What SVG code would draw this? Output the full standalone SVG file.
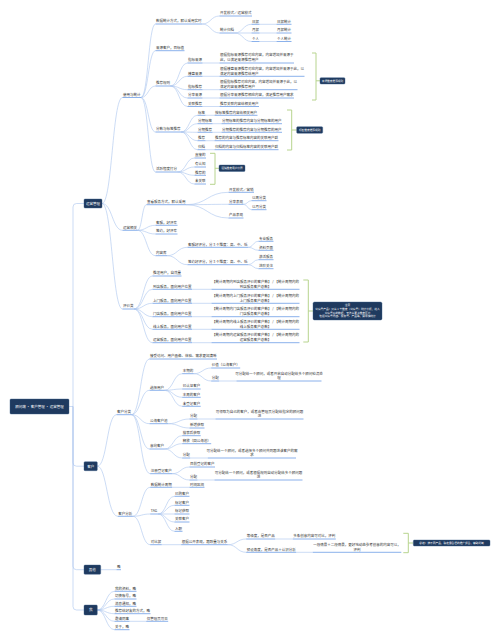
<svg xmlns="http://www.w3.org/2000/svg" width="498" height="640" viewBox="0 0 498 640">
<style>
text{font-family:"Noto Sans CJK SC","Noto Sans",sans-serif;font-size:3.5px;fill:#333}
.m{text-anchor:middle}
.w{fill:#fff}
.s{font-size:2.7px}
.u{stroke:#6d9de6;stroke-width:.8}
.c{stroke:#a9c4ee;stroke-width:.6;fill:none}
.b{fill:#1f3a5f;stroke:#3d5f8c;stroke-width:.4}
.k{stroke:#b7d48e;stroke-width:1;fill:none}
</style>
<rect width="498" height="640" fill="#fff"/>
<g id="connectors">
<path class="c" d="M69 406.5H73M73 406.5V207Q73 203.5 76.5 203.5H84M73 406.5V462.7Q73 466.2 76.5 466.2H84M73 406.5V566.2Q73 569.7 76.5 569.7H84M73 406.5V606.5Q73 610 76.5 610H84"/>
<path class="c" d="M102 203.5C112.3 203.5 112.3 97.5 122.5 97.5M102 203.5C112.3 203.5 112.3 230.3 122.5 230.3M102 203.5C112.3 203.5 112.3 309 122.5 309"/>
<path class="c" d="M141 97.5C148.3 97.5 148.3 24 155.5 24M141 97.5C148.3 97.5 148.3 50.7 155.5 50.7M141 97.5C148.3 97.5 148.3 86 155.5 86M141 97.5C148.3 97.5 148.3 132 155.5 132M141 97.5C148.3 97.5 148.3 172 155.5 172"/>
<path class="c" d="M202 24C210.8 24 210.8 16 219.5 16M202 24C210.8 24 210.8 33 219.5 33M234.5 33C243 33 243 24.3 251.5 24.3M234.5 33H251.5M234.5 33C243 33 243 41.5 251.5 41.5M259.5 24.3H276.5M259.5 33H276.5M259.5 41.5H276.5"/>
<path class="c" d="M170.5 86C179 86 179 63 187.5 63M170.5 86C179 86 179 76.3 187.5 76.3M170.5 86C179 86 179 89.7 187.5 89.7M170.5 86C179 86 179 98 187.5 98M170.5 86C179 86 179 106.5 187.5 106.5M202.5 63H219.5M202.5 76.3H219.5M202.5 89.7H219.5M202.5 98H219.5M202.5 106.5H219.5"/>
<path class="c" d="M181 132C189.3 132 189.3 115.3 197.5 115.3M181 132C189.3 132 189.3 123.7 197.5 123.7M181 132C189.3 132 189.3 132.3 197.5 132.3M181 132C189.3 132 189.3 140.7 197.5 140.7M181 132C189.3 132 189.3 149.7 197.5 149.7M205.5 115.3H214.5M212.5 123.7H221.5M212.5 132.3H221.5M205.5 140.7H214.5M205.5 149.7H214.5"/>
<path class="c" d="M177.5 172C186 172 186 158 194.5 158M177.5 172C186 172 186 167 194.5 167M177.5 172C186 172 186 175.3 194.5 175.3M177.5 172C186 172 186 184 194.5 184"/>
<path class="c" d="M137.5 230.3C142 230.3 142 204.7 146.5 204.7M137.5 230.3C146.5 230.3 146.5 225.3 155.5 225.3M137.5 230.3C146.5 230.3 146.5 234 155.5 234M137.5 230.3C146.5 230.3 146.5 255.7 155.5 255.7"/>
<path class="c" d="M186 204.7C207.3 204.7 207.3 192.3 228.5 192.3M186 204.7C207.3 204.7 207.3 204.3 228.5 204.3M186 204.7C207.3 204.7 207.3 218 228.5 218M243.5 204.3C247.5 204.3 247.5 200.7 251.5 200.7M243.5 204.3C247.5 204.3 247.5 209.7 251.5 209.7"/>
<path class="c" d="M167 255.7C177.3 255.7 177.3 247.3 187.5 247.3M167 255.7C177.3 255.7 177.3 264.7 187.5 264.7M248 247.3C253.3 247.3 253.3 241.3 258.5 241.3M248 247.3C253.3 247.3 253.3 250.3 258.5 250.3M248 264.7C253.3 264.7 253.3 259.7 258.5 259.7M248 264.7C253.3 264.7 253.3 268.7 258.5 268.7"/>
<path class="c" d="M134 309C143.3 309 143.3 276 152.5 276M134 309C143.3 309 143.3 289.3 152.5 289.3M134 309C143.3 309 143.3 303.3 152.5 303.3M134 309C143.3 309 143.3 316.7 152.5 316.7M134 309C143.3 309 143.3 329.3 152.5 329.3M134 309C143.3 309 143.3 342.7 152.5 342.7M192 289.3H211.5M192 303.3H211.5M192 316.7H211.5M192 329.3H211.5M192 342.7H211.5"/>
<path class="c" d="M97.3 466.2C107 466.2 107 414.7 116.5 414.7M97.3 466.2C107 466.2 107 516.3 117.8 516.3"/>
<path class="c" d="M131.5 414.7C140.5 414.7 140.5 359 149.5 359M131.5 414.7C140.5 414.7 140.5 390.3 149.5 390.3M131.5 414.7C140.5 414.7 140.5 423.7 149.5 423.7M131.5 414.7C140.5 414.7 140.5 449 149.5 449M131.5 414.7C140.5 414.7 140.5 473.7 150.2 473.7"/>
<path class="c" d="M164.5 390.3C173.3 390.3 173.3 373.7 182.2 373.7M164.5 390.3C173.3 390.3 173.3 389 182.2 389M164.5 390.3C173.3 390.3 173.3 397.3 182.2 397.3M164.5 390.3C173.3 390.3 173.3 406.3 182.2 406.3M193.7 373.7C202.5 373.7 202.5 368 211.2 368M193.7 373.7C202.5 373.7 202.5 381 211.2 381M219.2 381H236.5"/>
<path class="c" d="M168 423.7C178.8 423.7 178.8 419 189.5 419M168 423.7C178.8 423.7 178.8 428 189.5 428M197.5 419H215.5"/>
<path class="c" d="M164.5 449C173.3 449 173.3 435.7 182.2 435.7M164.5 449C173.3 449 173.3 443.7 182.2 443.7M164.5 449C173.3 449 173.3 458 182.2 458M190.2 458H207.8"/>
<path class="c" d="M172.2 473.7C180.8 473.7 180.8 467 189.5 467M172.2 473.7C180.8 473.7 180.8 480 189.5 480M197.5 480H214.5"/>
<path class="c" d="M132.8 516.3C141.5 516.3 141.5 487.3 150.2 487.3M132.8 516.3C141.5 516.3 141.5 514 150.2 514M132.8 516.3C141.5 516.3 141.5 544.7 150.2 544.7M172.2 487.3H189.5"/>
<path class="c" d="M158 514C166.3 514 166.3 496.3 174.5 496.3M158 514C166.3 514 166.3 505.3 174.5 505.3M158 514H174.5M158 514C166.3 514 166.3 522 174.5 522M158 514C166.3 514 166.3 531.3 174.5 531.3"/>
<path class="c" d="M161.7 544.7H181.2M227.7 544.7C237 544.7 237 539 246.2 539M227.7 544.7C237 544.7 237 552.3 246.2 552.3M275.2 539H292.8M296.2 552.3H312.8"/>
<path class="c" d="M100.7 569.7H116.5"/>
<path class="c" d="M97.3 610C105.9 610 105.9 591.3 114.5 591.3M97.3 610C105.9 610 105.9 599 114.5 599M97.3 610C105.9 610 105.9 606.3 114.5 606.3M97.3 610C105.9 610 105.9 613.7 114.5 613.7M97.3 610C105.9 610 105.9 621.3 114.5 621.3M97.3 610C105.9 610 105.9 629.7 114.5 629.7M129.5 621.3H146.2"/>
</g>
<g id="root"><rect class="b" x="10" y="399" width="59" height="15" rx="1"/><text class="w m" x="39.5" y="407.8">顾问端 · 客户管理 · 运营管理</text></g>
<g id="l1-ops"><rect class="b" x="84" y="199" width="18" height="9" rx="1"/><text class="w m" x="93" y="204.8">运营管理</text></g>
<g id="l1-cust"><rect class="b" x="84" y="461.7" width="13.3" height="9" rx="1"/><text class="w m" x="90.65" y="467.5">客户</text></g>
<g id="l1-other"><rect class="b" x="84" y="565" width="16.7" height="9.3" rx="1"/><text class="w m" x="92.35" y="571">其他</text></g>
<g id="l1-me"><rect class="b" x="84" y="605" width="13.3" height="10" rx="1"/><text class="w m" x="90.65" y="611.3">我</text></g>

<g id="a1"><text x="123" y="95.8">使用与统计</text><line class="u" x1="122.5" y1="97.5" x2="141" y2="97.5"/></g>
<g id="a1a"><text x="156" y="22.3">数据统计方式，默认采用实时</text><line class="u" x1="155.5" y1="24" x2="202" y2="24"/></g>
<g id="a1a1"><text x="220" y="14.3">开发模式／运营模式</text><line class="u" x1="219.5" y1="16" x2="252" y2="16"/></g>
<g id="a1a2"><text x="220" y="31.3">统计归档</text><line class="u" x1="219.5" y1="33" x2="234.5" y2="33"/></g>
<g id="r1"><text x="252" y="22.6">日报</text><line class="u" x1="251.5" y1="24.3" x2="259.5" y2="24.3"/></g>
<g id="r1c"><text x="277" y="22.6">日报统计</text><line class="u" x1="276.5" y1="24.3" x2="291.5" y2="24.3"/></g>
<g id="r2"><text x="252" y="31.3">月报</text><line class="u" x1="251.5" y1="33" x2="259.5" y2="33"/></g>
<g id="r2c"><text x="277" y="31.3">月报统计</text><line class="u" x1="276.5" y1="33" x2="291.5" y2="33"/></g>
<g id="r3"><text x="252" y="39.8">个人</text><line class="u" x1="251.5" y1="41.5" x2="259.5" y2="41.5"/></g>
<g id="r3c"><text x="277" y="39.8">个人统计</text><line class="u" x1="276.5" y1="41.5" x2="291.5" y2="41.5"/></g>
<g id="a1b"><text x="156" y="49">来源客户，目标值</text><line class="u" x1="155.5" y1="50.7" x2="184.5" y2="50.7"/></g>
<g id="a1c"><text x="156" y="84.3">推荐规则</text><line class="u" x1="155.5" y1="86" x2="170.5" y2="86"/></g>
<g id="c1"><text x="188" y="61.3">指标来源</text><line class="u" x1="187.5" y1="63" x2="202.5" y2="63"/></g>
<g id="c1t"><text x="220" y="56.3">根据指标来源推荐对应内容，内容增加并来源于</text><text x="220" y="61.3">此，以满足来源推荐用户</text><line class="u" x1="219.5" y1="63" x2="294" y2="63"/></g>
<g id="c2"><text x="188" y="74.6">楼盘来源</text><line class="u" x1="187.5" y1="76.3" x2="202.5" y2="76.3"/></g>
<g id="c2t"><text x="220" y="69.6">根据楼盘来源推荐对应内容，内容增加并来源于此，以</text><text x="220" y="74.6">满足内容来源推荐给用户</text><line class="u" x1="219.5" y1="76.3" x2="304.5" y2="76.3"/></g>
<g id="c3"><text x="188" y="88">指标推荐</text><line class="u" x1="187.5" y1="89.7" x2="202.5" y2="89.7"/></g>
<g id="c3t"><text x="220" y="83">根据指标推荐对应内容，内容增加并来源于此，以</text><text x="220" y="88">满足内容来源推荐用户</text><line class="u" x1="219.5" y1="89.7" x2="297.5" y2="89.7"/></g>
<g id="c4"><text x="188" y="96.3">分享来源</text><line class="u" x1="187.5" y1="98" x2="202.5" y2="98"/></g>
<g id="c4t"><text x="220" y="96.3">根据分享来源推荐相应内容，满足推荐用户需求</text><line class="u" x1="219.5" y1="98" x2="294" y2="98"/></g>
<g id="c5"><text x="188" y="104.8">关联推荐</text><line class="u" x1="187.5" y1="106.5" x2="202.5" y2="106.5"/></g>
<g id="c5t"><text x="220" y="104.8">推荐关联内容给相关用户</text><line class="u" x1="219.5" y1="106.5" x2="259" y2="106.5"/></g>
<g id="a1d"><text x="156" y="130.3">分数与标签推荐</text><line class="u" x1="155.5" y1="132" x2="181" y2="132"/></g>
<g id="d1"><text x="198" y="113.6">标签</text><line class="u" x1="197.5" y1="115.3" x2="205.5" y2="115.3"/></g>
<g id="d1t"><text x="215" y="113.6">按标签推荐内容给相关用户</text><line class="u" x1="214.5" y1="115.3" x2="257.5" y2="115.3"/></g>
<g id="d2"><text x="198" y="122">分期标签</text><line class="u" x1="197.5" y1="123.7" x2="212.5" y2="123.7"/></g>
<g id="d2t"><text x="222" y="122">分期标签的推荐内容与分期标签的用户</text><line class="u" x1="221.5" y1="123.7" x2="282" y2="123.7"/></g>
<g id="d3"><text x="198" y="130.6">分期推荐</text><line class="u" x1="197.5" y1="132.3" x2="212.5" y2="132.3"/></g>
<g id="d3t"><text x="222" y="130.6">分期推荐的推荐内容与分期推荐的用户</text><line class="u" x1="221.5" y1="132.3" x2="282" y2="132.3"/></g>
<g id="d4"><text x="198" y="139">推荐</text><line class="u" x1="197.5" y1="140.7" x2="205.5" y2="140.7"/></g>
<g id="d4t"><text x="215" y="139">推荐的内容与推荐标签内容的关联用户群</text><line class="u" x1="214.5" y1="140.7" x2="278.5" y2="140.7"/></g>
<g id="d5"><text x="198" y="148">归档</text><line class="u" x1="197.5" y1="149.7" x2="205.5" y2="149.7"/></g>
<g id="d5t"><text x="215" y="148">归档的内容与归档标签内容的关联用户群</text><line class="u" x1="214.5" y1="149.7" x2="278.5" y2="149.7"/></g>
<g id="a1e"><text x="156" y="170.3">活跃程度打分</text><line class="u" x1="155.5" y1="172" x2="177.5" y2="172"/></g>
<g id="e1"><text x="195" y="156.3">直接的</text><line class="u" x1="194.5" y1="158" x2="206" y2="158"/></g>
<g id="e2"><text x="195" y="165.3">有认知</text><line class="u" x1="194.5" y1="167" x2="206" y2="167"/></g>
<g id="e3"><text x="195" y="173.6">推荐的</text><line class="u" x1="194.5" y1="175.3" x2="206" y2="175.3"/></g>
<g id="e4"><text x="195" y="182.3">未关联</text><line class="u" x1="194.5" y1="184" x2="206" y2="184"/></g>
<g id="sumA"><path class="k" d="M312 53H316V100H312M316 80.8H320"/><rect class="b" x="320" y="77.7" width="25" height="6.3" rx="1"/><text class="w m s" x="332.5" y="81.8">来源维度推荐规则</text></g>
<g id="sumB"><path class="k" d="M287 110H291.7V150H287M291.7 130H296.7"/><rect class="b" x="296.7" y="126.7" width="26" height="6.6" rx="1"/><text class="w m s" x="309.7" y="131">标签维度推荐规则</text></g>
<g id="sumC"><path class="k" d="M210 153.3H215V184.3H210M215 168.3H219"/><rect class="b" x="219" y="165" width="26" height="6.5" rx="1"/><text class="w m s" x="232" y="169.3">活跃维度用户分层</text></g>

<g id="a2"><text x="123" y="228.6">运营相关</text><line class="u" x1="122.5" y1="230.3" x2="137.5" y2="230.3"/></g>
<g id="a2a"><text x="147" y="203">查看服务方式，默认采用</text><line class="u" x1="146.5" y1="204.7" x2="186" y2="204.7"/></g>
<g id="f1"><text x="229" y="190.6">开发模式／营销</text><line class="u" x1="228.5" y1="192.3" x2="254" y2="192.3"/></g>
<g id="f2"><text x="229" y="202.6">分享表现</text><line class="u" x1="228.5" y1="204.3" x2="243.5" y2="204.3"/></g>
<g id="g1"><text x="252" y="199">以周分类</text><line class="u" x1="251.5" y1="200.7" x2="266.5" y2="200.7"/></g>
<g id="g2"><text x="252" y="208">以月分类</text><line class="u" x1="251.5" y1="209.7" x2="266.5" y2="209.7"/></g>
<g id="f3"><text x="229" y="216.3">产品表现</text><line class="u" x1="228.5" y1="218" x2="243.5" y2="218"/></g>
<g id="a2b"><text x="156" y="223.6">客服，好评率</text><line class="u" x1="155.5" y1="225.3" x2="177.5" y2="225.3"/></g>
<g id="a2c"><text x="156" y="232.3">签约，好评率</text><line class="u" x1="155.5" y1="234" x2="177.5" y2="234"/></g>
<g id="a2d"><text x="156" y="254">内容库</text><line class="u" x1="155.5" y1="255.7" x2="167" y2="255.7"/></g>
<g id="h1"><text x="188" y="245.6">客服好评分，分 3 个维度：高、中、低</text><line class="u" x1="187.5" y1="247.3" x2="248" y2="247.3"/></g>
<g id="i1"><text x="259" y="239.6">专业服务</text><line class="u" x1="258.5" y1="241.3" x2="273.5" y2="241.3"/></g>
<g id="i2"><text x="259" y="248.6">资料页面</text><line class="u" x1="258.5" y1="250.3" x2="273.5" y2="250.3"/></g>
<g id="h2"><text x="188" y="263">签约好评分，分 3 个维度：高、中、低</text><line class="u" x1="187.5" y1="264.7" x2="248" y2="264.7"/></g>
<g id="i3"><text x="259" y="258">激活服务</text><line class="u" x1="258.5" y1="259.7" x2="273.5" y2="259.7"/></g>
<g id="i4"><text x="259" y="267">进阶关注</text><line class="u" x1="258.5" y1="268.7" x2="273.5" y2="268.7"/></g>

<g id="a3"><text x="123" y="307.3">评价类</text><line class="u" x1="122.5" y1="309" x2="134" y2="309"/></g>
<g id="j1"><text x="153" y="274.3">推送用户，自然量</text><line class="u" x1="152.5" y1="276" x2="181.5" y2="276"/></g>
<g id="j2"><text x="153" y="287.6">到店服务，面向用户位置</text><line class="u" x1="152.5" y1="289.3" x2="192" y2="289.3"/></g>
<g id="j2t"><text class="m" x="255.5" y="282.9">【统计周期内到店服务评价的客户数】 / 【统计周期内的</text><text class="m" x="255.5" y="287.6">到店服务客户总数】</text><line class="u" x1="211.5" y1="289.3" x2="299.5" y2="289.3"/></g>
<g id="j3"><text x="153" y="301.6">上门服务，面向用户位置</text><line class="u" x1="152.5" y1="303.3" x2="192" y2="303.3"/></g>
<g id="j3t"><text class="m" x="255.5" y="296.9">【统计周期内上门服务评价的客户数】 / 【统计周期内的</text><text class="m" x="255.5" y="301.6">上门服务客户总数】</text><line class="u" x1="211.5" y1="303.3" x2="299.5" y2="303.3"/></g>
<g id="j4"><text x="153" y="315">门店服务，面向用户位置</text><line class="u" x1="152.5" y1="316.7" x2="192" y2="316.7"/></g>
<g id="j4t"><text class="m" x="255.5" y="310.3">【统计周期内门店服务评价的客户数】 / 【统计周期内的</text><text class="m" x="255.5" y="315">门店服务客户总数】</text><line class="u" x1="211.5" y1="316.7" x2="299.5" y2="316.7"/></g>
<g id="j5"><text x="153" y="327.6">线上服务，面向用户位置</text><line class="u" x1="152.5" y1="329.3" x2="192" y2="329.3"/></g>
<g id="j5t"><text class="m" x="255.5" y="322.9">【统计周期内线上服务评价的客户数】 / 【统计周期内的</text><text class="m" x="255.5" y="327.6">线上服务客户总数】</text><line class="u" x1="211.5" y1="329.3" x2="299.5" y2="329.3"/></g>
<g id="j6"><text x="153" y="341">运营服务，面向用户位置</text><line class="u" x1="152.5" y1="342.7" x2="192" y2="342.7"/></g>
<g id="j6t"><text class="m" x="255.5" y="336.3">【统计周期内运营服务评价的客户数】 / 【统计周期内的</text><text class="m" x="255.5" y="341">运营服务客户总数】</text><line class="u" x1="211.5" y1="342.7" x2="299.5" y2="342.7"/></g>
<g id="sumD"><path class="k" d="M303.3 280H308.3V342H303.3M308.3 311H313"/><rect class="b" x="313" y="302" width="69" height="18" rx="1.5"/><text class="w m s" x="347.5" y="306">注意</text><text class="w m s" x="347.5" y="310.3">公众号产品：只从 1 个维度（公众号）统计分析，进入</text><text class="w m s" x="347.5" y="313.7">公众号后的数据，无法从更多维度区分</text><text class="w m s" x="347.5" y="317">包括公众号内容、服务号、产品等，需单独统计</text></g>

<g id="b1"><text x="117" y="413">客户分类</text><line class="u" x1="116.5" y1="414.7" x2="131.5" y2="414.7"/></g>
<g id="b1a"><text x="150" y="357.3">接受访问、用户画像、体验、需求更加清晰</text><line class="u" x1="149.5" y1="359" x2="217" y2="359"/></g>
<g id="b1b"><text x="150" y="388.6">选择用户</text><line class="u" x1="149.5" y1="390.3" x2="164.5" y2="390.3"/></g>
<g id="k1"><text x="182.7" y="372">本期的</text><line class="u" x1="182.2" y1="373.7" x2="193.7" y2="373.7"/></g>
<g id="k1a"><text x="211.7" y="366.3">价值（公海客户）</text><line class="u" x1="211.2" y1="368" x2="240.2" y2="368"/></g>
<g id="k1b"><text x="211.7" y="379.3">分配</text><line class="u" x1="211.2" y1="381" x2="219.2" y2="381"/></g>
<g id="k1bt"><text class="m" x="279" y="374.6">可分配给一个顾问，或者开启自动分配给多个顾问轮流处</text><text class="m" x="279" y="379.3">理</text><line class="u" x1="236.5" y1="381" x2="321.5" y2="381"/></g>
<g id="k2"><text x="182.7" y="387.3">已认证客户</text><line class="u" x1="182.2" y1="389" x2="200.7" y2="389"/></g>
<g id="k3"><text x="182.7" y="395.6">本周的客户</text><line class="u" x1="182.2" y1="397.3" x2="200.7" y2="397.3"/></g>
<g id="k4"><text x="182.7" y="404.6">未登记客户</text><line class="u" x1="182.2" y1="406.3" x2="200.7" y2="406.3"/></g>
<g id="b1c"><text x="150" y="422">公海客户池</text><line class="u" x1="149.5" y1="423.7" x2="168" y2="423.7"/></g>
<g id="l1"><text x="190" y="417.3">分配</text><line class="u" x1="189.5" y1="419" x2="197.5" y2="419"/></g>
<g id="l1t"><text class="m" x="259.5" y="412.6">可领取为自己的客户，或者由管理员分配给指定的顾问跟</text><text class="m" x="259.5" y="417.3">进</text><line class="u" x1="215.5" y1="419" x2="303.5" y2="419"/></g>
<g id="l2"><text x="190" y="426.3">新增获取</text><line class="u" x1="189.5" y1="428" x2="204.5" y2="428"/></g>
<g id="b1d"><text x="150" y="447.3">意向客户</text><line class="u" x1="149.5" y1="449" x2="164.5" y2="449"/></g>
<g id="m1"><text x="182.7" y="434">搜索后获取</text><line class="u" x1="182.2" y1="435.7" x2="200.7" y2="435.7"/></g>
<g id="m2"><text x="182.7" y="442">释放（回公海池）</text><line class="u" x1="182.2" y1="443.7" x2="211.2" y2="443.7"/></g>
<g id="m3"><text x="182.7" y="456.3">分配</text><line class="u" x1="182.2" y1="458" x2="190.2" y2="458"/></g>
<g id="m3t"><text class="m" x="251.9" y="451.6">可分配给一个顾问，或者选择多个顾问共同跟进该客户的需</text><text class="m" x="251.9" y="456.3">求</text><line class="u" x1="207.8" y1="458" x2="296" y2="458"/></g>
<g id="b1e"><text x="150.7" y="472">注册登记客户</text><line class="u" x1="150.2" y1="473.7" x2="172.2" y2="473.7"/></g>
<g id="n1"><text x="190" y="465.3">目前登记的客户</text><line class="u" x1="189.5" y1="467" x2="215" y2="467"/></g>
<g id="n2"><text x="190" y="478.3">分配</text><line class="u" x1="189.5" y1="480" x2="197.5" y2="480"/></g>
<g id="n2t"><text class="m" x="258.5" y="473.6">可分配给一个顾问，或者根据规则自动分配给多个顾问跟</text><text class="m" x="258.5" y="478.3">进</text><line class="u" x1="214.5" y1="480" x2="302.5" y2="480"/></g>

<g id="b2"><text x="118.3" y="514.6">客户分析</text><line class="u" x1="117.8" y1="516.3" x2="132.8" y2="516.3"/></g>
<g id="o1"><text x="150.7" y="485.6">数据统计周期</text><line class="u" x1="150.2" y1="487.3" x2="172.2" y2="487.3"/></g>
<g id="o1a"><text x="190" y="485.6">时间区间</text><line class="u" x1="189.5" y1="487.3" x2="204.5" y2="487.3"/></g>
<g id="o2"><text x="150.7" y="512.3">TAG</text><line class="u" x1="150.2" y1="514" x2="158" y2="514"/></g>
<g id="p1"><text x="175" y="494.6">已购客户</text><line class="u" x1="174.5" y1="496.3" x2="189.5" y2="496.3"/></g>
<g id="p2"><text x="175" y="503.6">标记客户</text><line class="u" x1="174.5" y1="505.3" x2="189.5" y2="505.3"/></g>
<g id="p3"><text x="175" y="512.3">标记获取</text><line class="u" x1="174.5" y1="514" x2="189.5" y2="514"/></g>
<g id="p4"><text x="175" y="520.3">关联客户</text><line class="u" x1="174.5" y1="522" x2="189.5" y2="522"/></g>
<g id="p5"><text x="175" y="529.6">入职</text><line class="u" x1="174.5" y1="531.3" x2="182.5" y2="531.3"/></g>
<g id="o3"><text x="150.7" y="543">对比报</text><line class="u" x1="150.2" y1="544.7" x2="161.7" y2="544.7"/></g>
<g id="q1"><text x="181.7" y="543">根据公开表现，跟踪量与关系</text><line class="u" x1="181.2" y1="544.7" x2="227.7" y2="544.7"/></g>
<g id="s1"><text x="246.7" y="537.3">等级度，是否产品</text><line class="u" x1="246.2" y1="539" x2="275.2" y2="539"/></g>
<g id="s1a"><text x="293.3" y="537.3">多条创意内容可对比，评判</text><line class="u" x1="292.8" y1="539" x2="335.8" y2="539"/></g>
<g id="s2"><text x="246.7" y="550.6">预设角度，是否产品＋认识分析</text><line class="u" x1="246.2" y1="552.3" x2="296.2" y2="552.3"/></g>
<g id="s2t"><text class="m" x="357" y="545.9">一段情景＋二段情景，更好地动态参考创意的内容可以，</text><text class="m" x="357" y="550.6">评判</text><line class="u" x1="312.8" y1="552.3" x2="401.3" y2="552.3"/></g>
<g id="sumE"><path class="k" d="M403.3 533.3H408.3V552.7H403.3M408.3 543H413.3"/><rect class="b" x="413.3" y="540" width="76.7" height="6" rx="1"/><text class="w m s" x="451.6" y="544">总结：按不同产品，确定最合适的推广组合，辅助判断</text></g>

<g id="c-1"><text x="117" y="568">略</text><line class="u" x1="116.5" y1="569.7" x2="121" y2="569.7"/></g>

<g id="t1"><text x="115" y="589.6">我的资料，略</text><line class="u" x1="114.5" y1="591.3" x2="136.5" y2="591.3"/></g>
<g id="t2"><text x="115" y="597.3">切换账号，略</text><line class="u" x1="114.5" y1="599" x2="136.5" y2="599"/></g>
<g id="t3"><text x="115" y="604.6">消息通知，略</text><line class="u" x1="114.5" y1="606.3" x2="136.5" y2="606.3"/></g>
<g id="t4"><text x="115" y="612">推荐给好友的方式，略</text><line class="u" x1="114.5" y1="613.7" x2="150.5" y2="613.7"/></g>
<g id="t5"><text x="115" y="619.6">邀请同事</text><line class="u" x1="114.5" y1="621.3" x2="129.5" y2="621.3"/></g>
<g id="t5a"><text x="146.7" y="619.6">仅管理员可见</text><line class="u" x1="146.2" y1="621.3" x2="168.2" y2="621.3"/></g>
<g id="t6"><text x="115" y="628">关于，略</text><line class="u" x1="114.5" y1="629.7" x2="129.5" y2="629.7"/></g>
</svg>
